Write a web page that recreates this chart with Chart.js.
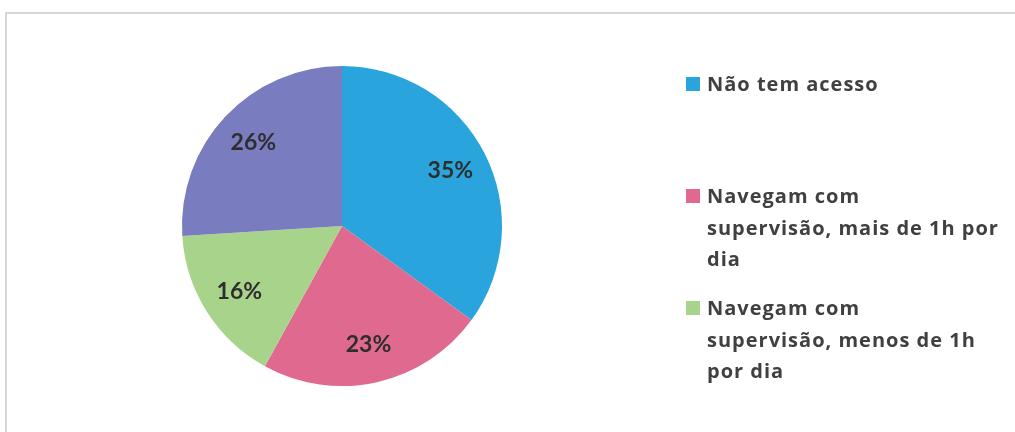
<!DOCTYPE html>
<html>
<head>
<meta charset="utf-8">
<script src="https://cdn.jsdelivr.net/npm/chart.js@4/dist/chart.umd.min.js"></script>
<style>
  html, body { margin: 0; padding: 0; background: #ffffff; }
  body { width: 1015px; height: 432px; overflow: hidden; position: relative; }
  .frame {
    position: absolute; left: 5px; top: 12px; width: 1040px; height: 440px;
    border-left: 2px solid #d6d6d6; border-top: 2px solid #d6d6d6;
    box-sizing: border-box;
  }
  #wrap { position: absolute; left: 0; top: 0; width: 1015px; height: 432px; }
</style>
</head>
<body>
<div class="frame"></div>
<div id="wrap"><canvas id="chart" width="1015" height="432"></canvas></div>
<script>
// Categories (multi-line legend labels) and their shares in percent
const categories = [
  ['Não tem acesso'],
  ['Navegam com', 'supervisão, mais de 1h por', 'dia'],
  ['Navegam com', 'supervisão, menos de 1h', 'por dia'],
  ['Navegam sem', 'supervisão']
];
const shares = [35, 23, 16, 26];
const sliceColors = ['#2aa4dc', '#e06a8f', '#a8d38b', '#7a7cc0'];

const LABEL_FONT = '"Lato", "Open Sans", sans-serif';
const LEGEND_FONT = '"Open Sans", "Lato", sans-serif';

// Percentage labels placed inside each slice
const sliceLabels = {
  id: 'sliceLabels',
  afterDatasetsDraw(chart) {
    const { ctx } = chart;
    const meta = chart.getDatasetMeta(0);
    ctx.save();
    ctx.font = 'bold 23px ' + LABEL_FONT;
    ctx.fillStyle = '#2e2e2e';
    ctx.textAlign = 'center';
    ctx.textBaseline = 'middle';
    meta.data.forEach((arc, i) => {
      const p = arc.getProps(['x', 'y', 'startAngle', 'endAngle', 'outerRadius'], true);
      const mid = (p.startAngle + p.endAngle) / 2;
      const r = p.outerRadius * 0.76;
      ctx.fillText(shares[i] + '%', p.x + Math.cos(mid) * r, p.y + Math.sin(mid) * r);
    });
    ctx.restore();
  }
};

// Legend on the right: one evenly spaced slot per category, wrapped text
const sideLegend = {
  id: 'sideLegend',
  afterDraw(chart) {
    const { ctx } = chart;
    const x0 = 686, firstBase = 91, slot = 112, lineH = 31.5, box = 14;
    ctx.save();
    ctx.font = 'bold 20px ' + LEGEND_FONT;
    ctx.letterSpacing = '1px';
    ctx.textBaseline = 'alphabetic';
    ctx.textAlign = 'left';
    categories.forEach((lines, i) => {
      const base = firstBase + i * slot;
      const lastBase = base + (lines.length - 1) * lineH;
      if (lastBase > chart.height - 4) return;
      ctx.fillStyle = sliceColors[i];
      ctx.fillRect(x0, base - box, box, box);
      ctx.fillStyle = '#404040';
      lines.forEach((t, k) => ctx.fillText(t, x0 + 21, base + k * lineH));
    });
    ctx.restore();
  }
};

new Chart(document.getElementById('chart'), {
  type: 'pie',
  data: {
    labels: categories,
    datasets: [{
      data: shares,
      backgroundColor: sliceColors,
      borderWidth: 0
    }]
  },
  options: {
    responsive: false,
    animation: false,
    layout: { padding: { left: 182, right: 513, top: 66, bottom: 46 } },
    plugins: {
      legend: { display: false },
      tooltip: { enabled: false }
    }
  },
  plugins: [sliceLabels, sideLegend]
});
</script>
</body>
</html>
